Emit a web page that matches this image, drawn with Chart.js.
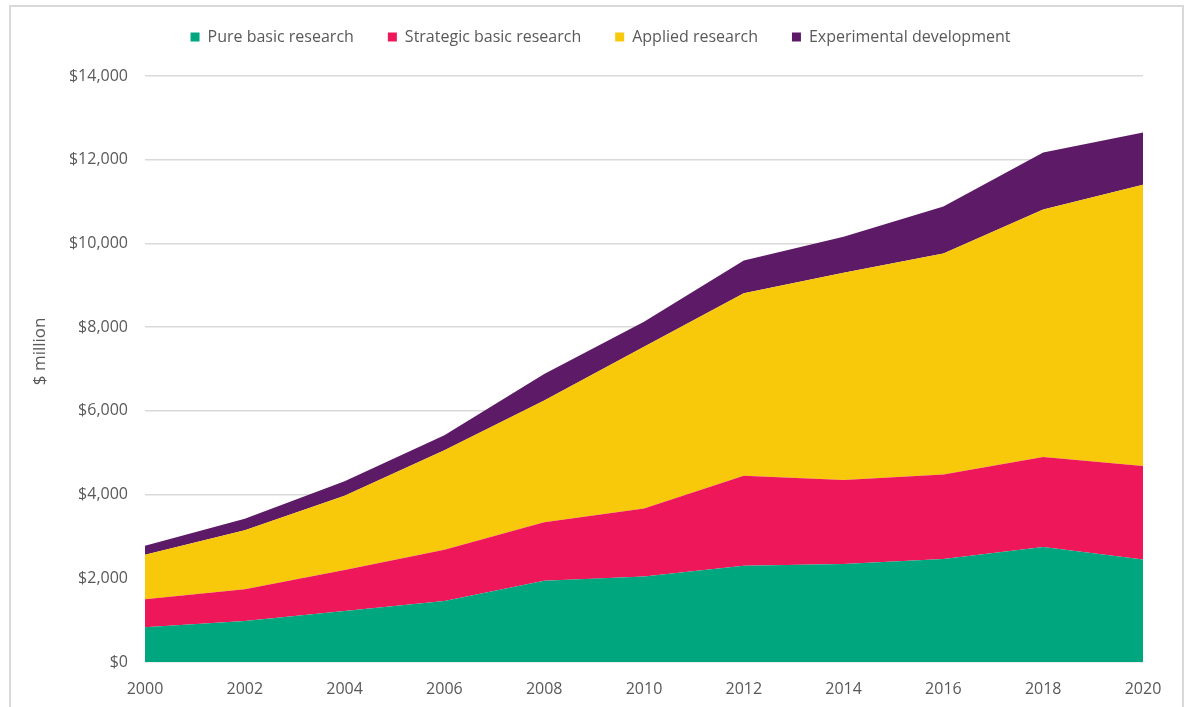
<!DOCTYPE html>
<html>
<head>
<meta charset="utf-8">
<script src="https://cdn.jsdelivr.net/npm/chart.js@4.4.0/dist/chart.umd.min.js"></script>
<style>
    html, body { margin: 0; padding: 0; background: #fff; }
    #frame { position: absolute; left: 9px; top: 5px; width: 1171px; height: 720px; border: 2px solid #d9d9d9; }
    #chart { position: absolute; left: 0; top: 0; }
</style>
</head>
<body>
<div id="frame"></div>
<canvas id="chart" width="1186" height="707"></canvas>
<script>
// --- Dados ---
const years = ['2000', '2002', '2004', '2006', '2008', '2010', '2012', '2014', '2016', '2018', '2020'];
const pureBasic = [830, 980, 1220, 1460, 1940, 2040, 2300, 2340, 2460, 2750, 2450];
const strategicBasic = [670, 760, 980, 1220, 1400, 1630, 2150, 2010, 2020, 2150, 2230];
const applied = [1060, 1410, 1770, 2380, 2910, 3860, 4360, 4950, 5280, 5910, 6720];
const experimental = [220, 270, 350, 360, 630, 600, 780, 860, 1120, 1360, 1250];
const yTicks = [0, 2000, 4000, 6000, 8000, 10000, 12000, 14000];

const textColor = '#595959';
const fontFamily = '"Open Sans", "Liberation Sans", sans-serif';

function areaSet(label, data, color, fill) {
    return {
        label: label,
        data: data,
        backgroundColor: color,
        borderColor: color,
        borderWidth: 0,
        pointRadius: 0,
        tension: 0,
        fill: fill
    };
}

// legenda com altura fixa e deslocada um pouco (direita / acima)
const legendSpacer = {
    id: 'legendSpacer',
    beforeInit(chart) {
        const origFit = chart.legend.fit;
        chart.legend.fit = function () {
            origFit.bind(chart.legend)();
            this.height = 76;
        };
    },
    afterLayout(chart) {
        chart.legend.left += 14;
        chart.legend.right += 14;
        chart.legend.top -= 5;
        chart.legend.bottom -= 5;
    }
};

new Chart(document.getElementById('chart').getContext('2d'), {
    type: 'line',
    data: {
        labels: years,
        datasets: [
            areaSet('Pure basic research', pureBasic, '#00a67e', 'origin'),
            areaSet('Strategic basic research', strategicBasic, '#ee1759', '-1'),
            areaSet('Applied research', applied, '#f8c80b', '-1'),
            areaSet('Experimental development', experimental, '#5d1a66', '-1')
        ]
    },
    options: {
        responsive: false,
        animation: false,
        layout: { padding: { left: 30, right: 43, top: 0, bottom: 0 } },
        scales: {
            x: {
                grid: { display: false },
                border: { display: false },
                ticks: { color: textColor, font: { family: fontFamily, size: 16 }, padding: 10, maxRotation: 0 },
                afterFit: scale => { scale.height = 45; }
            },
            y: {
                stacked: true,
                min: 0,
                max: 14000,
                afterBuildTicks: scale => { scale.ticks = yTicks.map(v => ({ value: v })); },
                grid: { color: '#d9d9d9', lineWidth: 1.5, drawTicks: false },
                border: { display: false },
                ticks: {
                    color: textColor,
                    font: { family: fontFamily, size: 16 },
                    padding: 17,
                    callback: value => '$' + value.toLocaleString('en-US')
                },
                title: {
                    display: true,
                    // espaços à esquerda sobem o texto, como no original
                    text: '\u00a0\u00a0\u00a0\u00a0\u00a0\u00a0\u00a0\u00a0$ million',
                    color: textColor,
                    font: { family: fontFamily, size: 17 },
                    padding: 0
                },
                afterFit: scale => { scale.width = 115; }
            }
        },
        plugins: {
            legend: {
                position: 'top',
                labels: {
                    color: textColor,
                    font: { family: fontFamily, size: 16 },
                    boxWidth: 9,
                    boxHeight: 9,
                    padding: 34
                }
            },
            tooltip: { enabled: false }
        }
    },
    plugins: [legendSpacer]
});
</script>
</body>
</html>
